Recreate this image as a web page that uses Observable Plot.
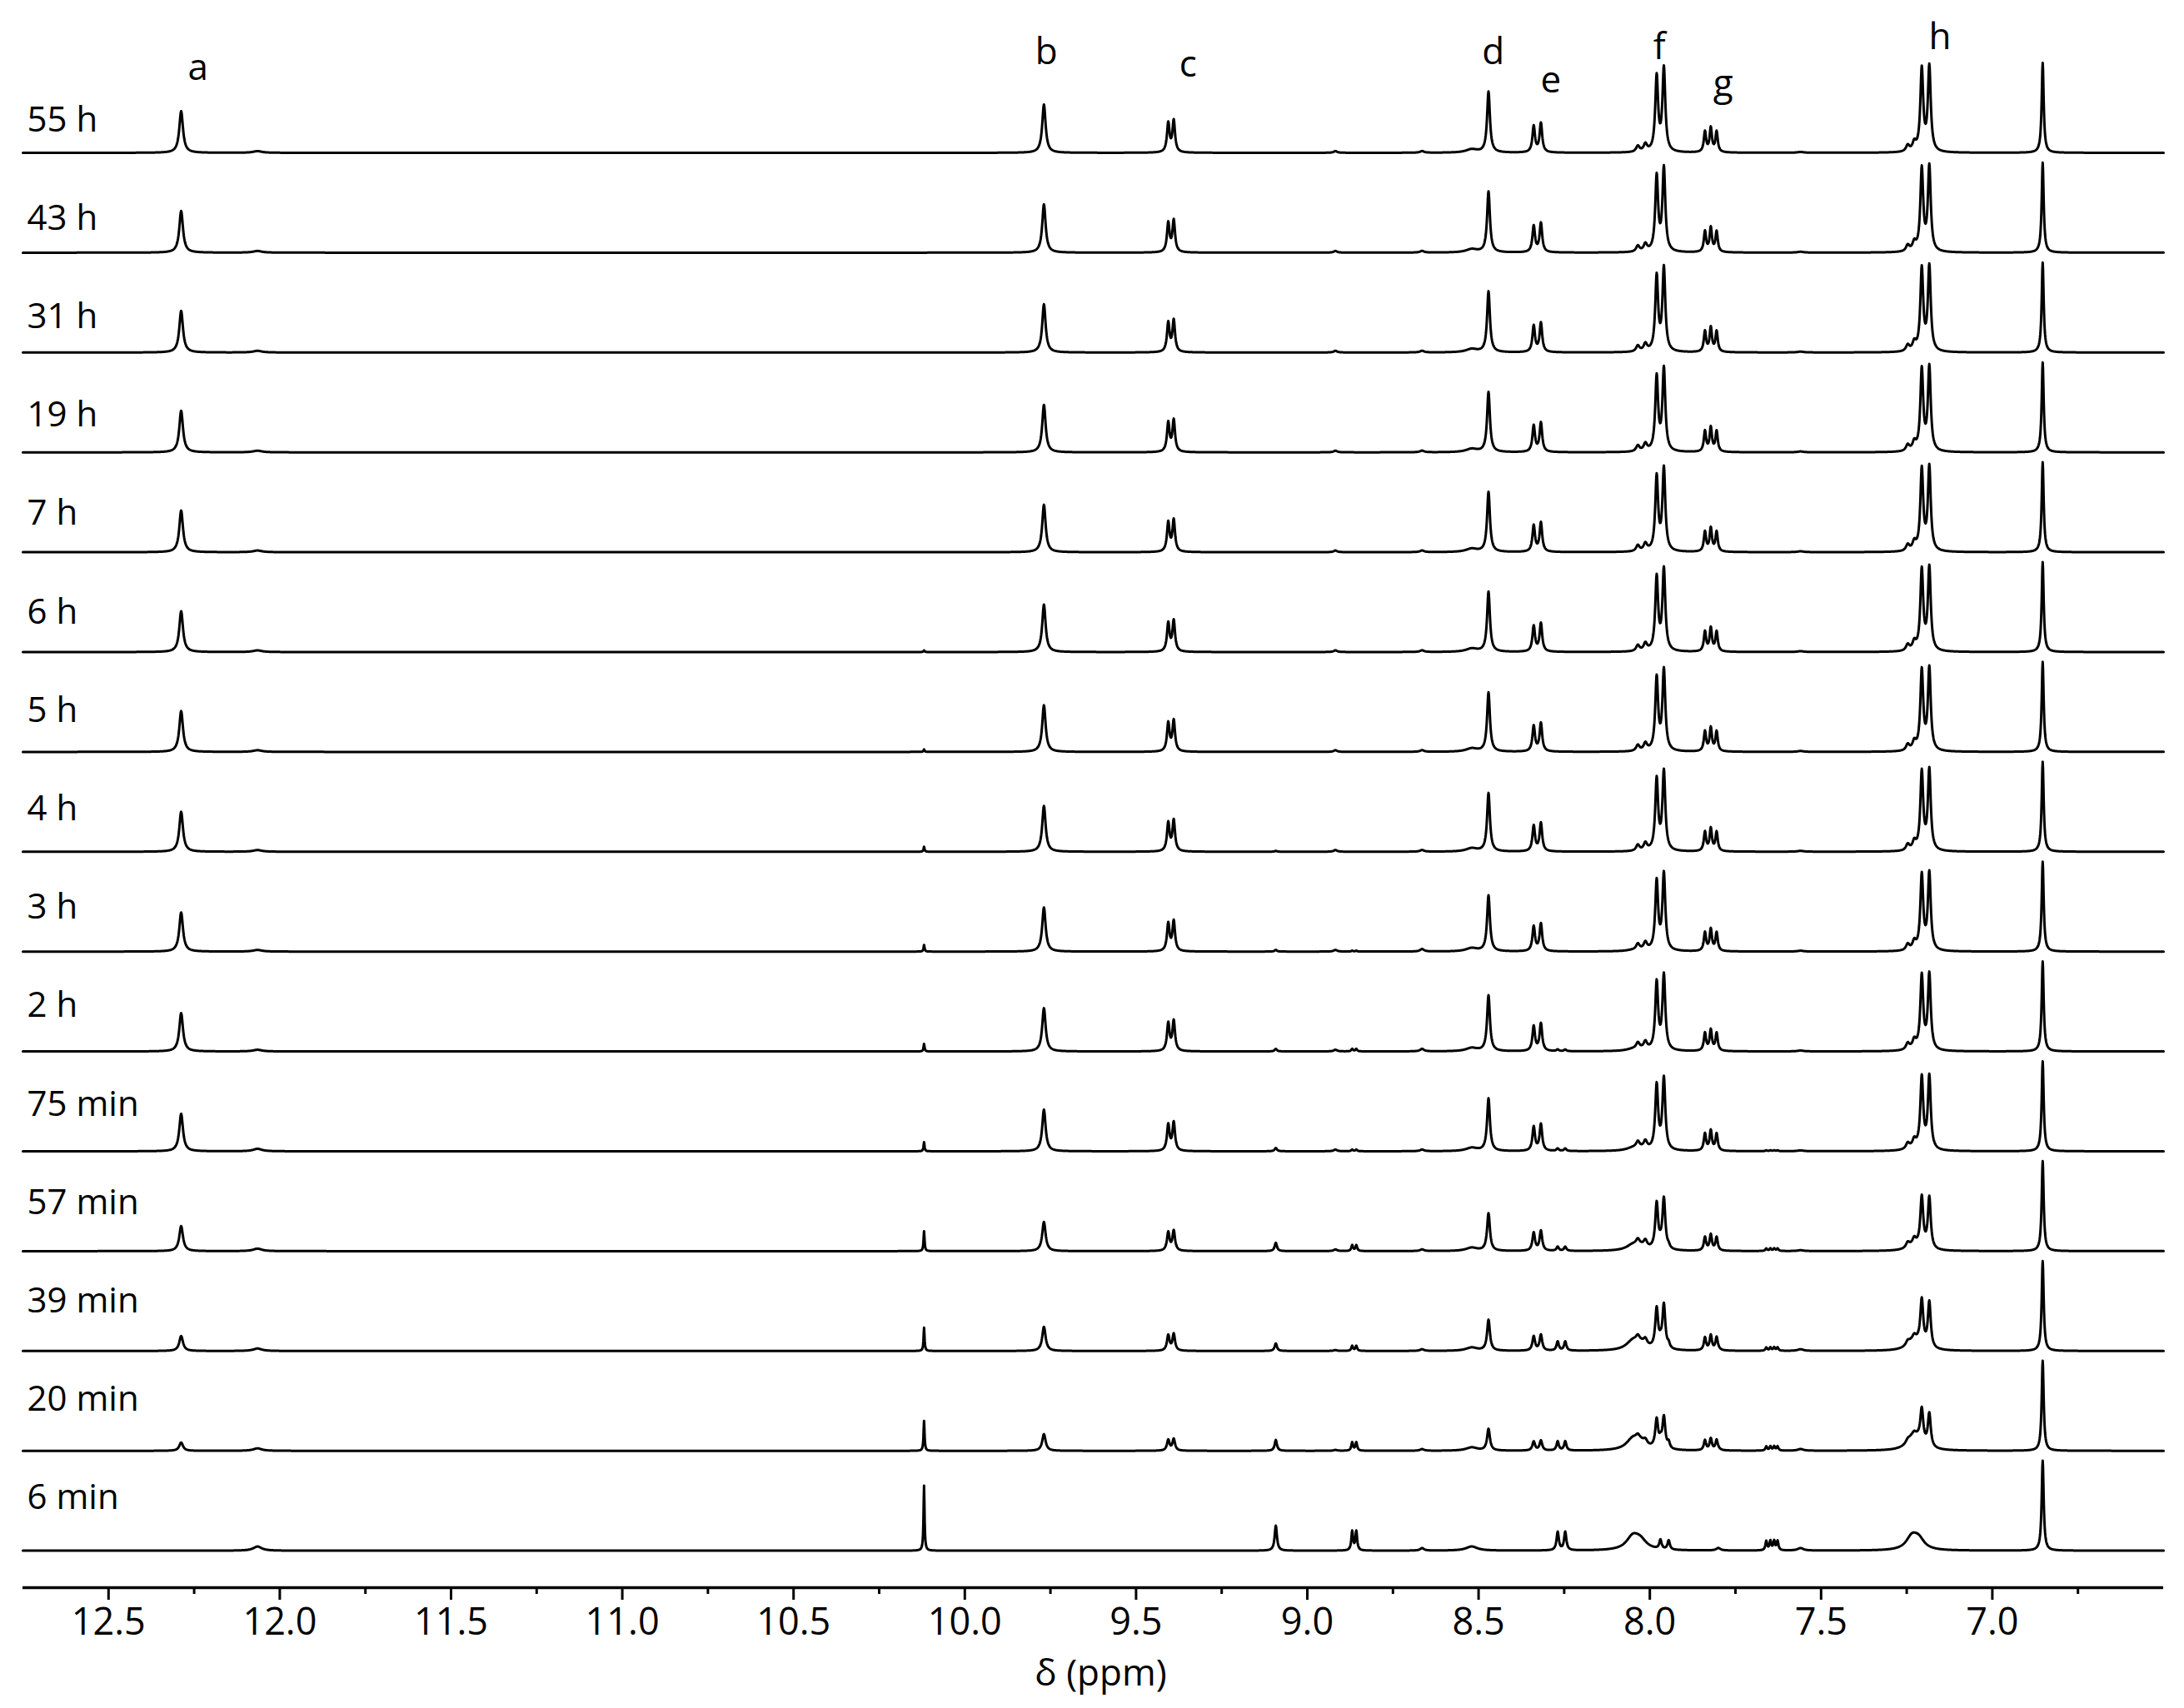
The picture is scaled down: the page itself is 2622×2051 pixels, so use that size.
<!DOCTYPE html>
<html>
<head>
<meta charset="utf-8">
<script src="https://cdn.jsdelivr.net/npm/d3@7"></script>
<script src="https://cdn.jsdelivr.net/npm/@observablehq/plot@0.6"></script>
<style>
html,body{margin:0;padding:0;background:#fff;}
#chart svg{display:block;}
</style>
</head>
<body>
<div id="chart"></div>
<script>
// ---------- data ----------
const spectra = ["55 h","43 h","31 h","19 h","7 h","6 h","5 h","4 h","3 h","2 h","75 min","57 min","39 min","20 min","6 min"];

// product signals: [ppm, relative intensity] lines, peak heights per spectrum
const aLines = [[12.288, 1]];
const aHeights = [50,50,50,50,50,49,49,48,47,46,45,30,18,10,0];
const bLines = [[9.769, 1]];
const bHeights = [58,58,58,57,57,57,56,55,53,52,50,35,29,20,0];
const cLines = [[9.406, 0.92],[9.390, 1]];
const cHeights = [38,38,38,38,38,37,37,37,36,36,34,24,20,14,0];
const dLines = [[8.471, 1]];
const dHeights = [73,73,73,72,72,72,71,70,67,67,63,45,37,26,0];
const eLines = [[8.339, 0.9],[8.318, 1]];
const eHeights = [35,35,35,35,35,34,34,34,33,33,32,24,19,12,0];
const fLines = [[7.980, 0.9],[7.959, 1]];
const fHeights = [100,100,100,99,99,98,97,95,92,90,86,61,53,38,0];
const gLines = [[7.839, 0.85],[7.822, 1],[7.805, 0.85]];
const gHeights = [29,29,29,29,28,28,28,27,26,25,24,19,18,14,0];
const hLines = [[7.206, 0.97],[7.184, 1]];
const hHeights = [102,102,102,101,101,100,99,97,93,91,88,62,55,40,0];
const fShoulderLines = [[8.035, 0.8],[8.013, 1]];
const fShoulderHeights = [9,9,9,9,9,9,9,9,9,9,9,8,7,5,0];
const hShoulderLines = [[7.247, 0.75],[7.228, 1]];
const hShoulderHeights = [10,10,10,10,10,10,10,10,10,10,9,8,6,4,0];
const refLines = [[6.853, 1]];
const refHeights = [108,108,108,108,108,108,108,108,108,108,108,108,108,108,108];

// starting-material / intermediate signals
const s1Lines = [[10.119, 1]];
const s1Heights = [0,0,0,0,0,2,3,6,8,9,11,24,28,36,78];
const s2Lines = [[9.092, 1]];
const s2Heights = [0,0,0,0,0,0,0,1,2,3,4,10,9,13,30];
const s3Lines = [[8.869, 1],[8.857, 1]];
const s3Heights = [0,0,0,0,0,0,0,0,1,3,2,7,6,10,23];
const s4Lines = [[8.269, 1],[8.247, 1]];
const s4Heights = [0,0,0,0,0,0,0,0,0,2,3,5,11,11,22];
const s5Lines = [[7.660, 1],[7.648, 1],[7.637, 1],[7.627, 1]];
const s5Heights = [0,0,0,0,0,0,0,0,0,0,1,3,4,5,11];
const s6Lines = [[7.969, 1],[7.945, 1]];
const s6Heights = [0,0,0,0,0,0,0,0,0,0,0,3,5,7,11];
const w1Lines = [[8.050, 1],[8.028, 0.7]];
const w1Heights = [0,0,0,0,0,0,0,0,1,2,3,6,10,12,15];
const w2Lines = [[7.235, 1],[7.215, 0.8]];
const w2Heights = [0,0,0,0,0,0,0,0,0,1,2,4,8,12,15];
const w3Lines = [[12.065, 1]];
const w3Heights = [2,2,2,2,2,2,2,2,2,2,3,3,3,3,5];
const w4Lines = [[8.520, 1]];
const w4Heights = [4,4,4,4,4,4,4,4,4,4,4,4,4,4,5];
const m1Lines = [[8.918, 1]];
const m1Heights = [2,2,2,2,2,2,2,2,2,2,2,2,1,1,0];
const m2Lines = [[8.665, 1]];
const m2Heights = [2,2,2,2,2,2,2,2,3,3,2,2,2,2,3];
const m3Lines = [[7.800, 1]];
const m3Heights = [0,0,0,0,0,0,0,0,0,0,0,0,1,1,3];
const m4Lines = [[7.560, 1]];
const m4Heights = [1,1,1,1,1,1,1,1,1,1,1,1,2,2,3];

// line widths (ppm, full width at half height)
const signalWidths = {
  a: 0.013, b: 0.012, c: 0.009, d: 0.010, e: 0.009, f: 0.010, g: 0.008, h: 0.010,
  fs: 0.012, hs: 0.012, ref: 0.007,
  s1: 0.0035, s2: 0.008, s3: 0.006, s4: 0.008, s5: 0.006, s6: 0.008,
  w1: 0.045, w2: 0.04, w3: 0.03, w4: 0.04, m1: 0.012, m2: 0.014, m3: 0.015, m4: 0.02
};

// peak letter annotations
const peakLetters = ["a","b","c","d","e","f","g","h"];
const letterPpm = [12.239, 9.762, 9.348, 8.457, 8.289, 7.972, 7.786, 7.153];
const letterLift = [88, 107, 92, 107, 73, 113, 69, 125];

// axis ticks
const majorTicks = [12.5,12.0,11.5,11.0,10.5,10.0,9.5,9.0,8.5,8.0,7.5,7.0];
const minorTicks = [12.25,11.75,11.25,10.75,10.25,9.75,9.25,8.75,8.25,7.75,7.25,6.75];

// ---------- build ----------
const signals = [
  [aLines, aHeights, signalWidths.a], [bLines, bHeights, signalWidths.b],
  [cLines, cHeights, signalWidths.c], [dLines, dHeights, signalWidths.d],
  [eLines, eHeights, signalWidths.e], [fLines, fHeights, signalWidths.f],
  [gLines, gHeights, signalWidths.g], [hLines, hHeights, signalWidths.h],
  [fShoulderLines, fShoulderHeights, signalWidths.fs], [hShoulderLines, hShoulderHeights, signalWidths.hs],
  [refLines, refHeights, signalWidths.ref],
  [s1Lines, s1Heights, signalWidths.s1], [s2Lines, s2Heights, signalWidths.s2],
  [s3Lines, s3Heights, signalWidths.s3], [s4Lines, s4Heights, signalWidths.s4],
  [s5Lines, s5Heights, signalWidths.s5], [s6Lines, s6Heights, signalWidths.s6],
  [w1Lines, w1Heights, signalWidths.w1], [w2Lines, w2Heights, signalWidths.w2],
  [w3Lines, w3Heights, signalWidths.w3], [w4Lines, w4Heights, signalWidths.w4],
  [m1Lines, m1Heights, signalWidths.m1], [m2Lines, m2Heights, signalWidths.m2],
  [m3Lines, m3Heights, signalWidths.m3], [m4Lines, m4Heights, signalWidths.m4]
];

const ppmMax = 12.75, ppmMin = 6.5, step = 0.001;
const n = Math.round((ppmMax - ppmMin) / step);
const gap = 119.9;          // vertical spacing between stacked spectra (intensity units)
const bottomOffset = 44.4;  // lift of the lowest spectrum above the axis
const baseOf = i => bottomOffset + (spectra.length - 1 - i) * gap;

const points = [];
spectra.forEach((name, i) => {
  const base = baseOf(i);
  for (let k = 0; k <= n; k++) {
    const p = ppmMax - k * step;
    let v = 0;
    for (const [lines, heights, w] of signals) {
      const hgt = heights[i];
      if (!hgt) continue;
      const hw = w / 2;
      for (const [c, r] of lines) {
        const t = (p - c) / hw;
        v += hgt * r / (1 + t * t);
      }
    }
    points.push({spectrum: name, ppm: p, v: base + v});
  }
});

const rowLabels = spectra.map((name, i) => ({name, v: baseOf(i) + 26 + 1.7 * i}));
const letters = peakLetters.map((t, j) => ({t, ppm: letterPpm[j], v: baseOf(0) + letterLift[j]}));

const font = "'Open Sans', 'Noto Sans', sans-serif";

const chart = Plot.plot({
  width: 2622,
  height: 2051,
  marginLeft: 27,
  marginRight: 25,
  marginTop: 0,
  marginBottom: 145,
  style: {fontFamily: font, background: "#fff", color: "#000"},
  x: {domain: [ppmMax, ppmMin]},
  y: {domain: [0, 1906], axis: null},
  marks: [
    Plot.line(points, {x: "ppm", y: "v", z: "spectrum", stroke: "#000", strokeWidth: 3}),
    Plot.ruleY([0], {stroke: "#000", strokeWidth: 3.5}),
    Plot.axisX(majorTicks, {tickSize: 15, tickPadding: 10, tickFormat: d3.format(".1f"),
      fontSize: 45, strokeWidth: 3, label: null}),
    Plot.axisX(minorTicks, {tickSize: 8, strokeWidth: 3, tickFormat: () => "", label: null}),
    Plot.text(["δ (ppm)"], {x: (ppmMax + ppmMin) / 2, y: -117, dx: 9, text: d => d,
      fontSize: 44, lineAnchor: "bottom", textAnchor: "middle", fill: "#000"}),
    Plot.text(rowLabels, {x: ppmMax, y: "v", dx: 5, text: "name", fontSize: 42,
      textAnchor: "start", lineAnchor: "bottom", fill: "#000"}),
    Plot.text(letters, {x: "ppm", y: "v", text: "t", fontSize: 44,
      textAnchor: "middle", lineAnchor: "bottom", fill: "#000"})
  ]
});
document.getElementById("chart").appendChild(chart);
</script>
</body>
</html>
